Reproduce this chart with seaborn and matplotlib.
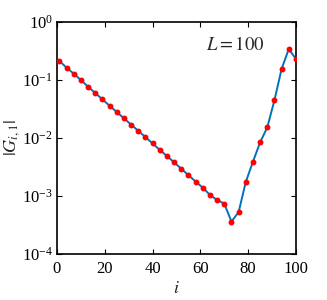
import numpy as np
import pandas as pd
import seaborn as sns
import matplotlib
matplotlib.use("Agg")
import matplotlib.pyplot as plt
from matplotlib.ticker import FixedLocator, NullLocator

# data: site index and log10 |G_{i,1}|
site = [1, 4, 7, 10, 13, 16, 19, 22, 25, 28, 31, 34, 37, 40, 43, 46, 49,
        52, 55, 58, 61, 64, 67, 70, 73, 76, 79, 82, 85, 88, 91, 94, 97, 100]
log_g = [-0.672, -0.788, -0.891, -1.00, -1.116, -1.224, -1.334, -1.443,
         -1.552, -1.66, -1.768, -1.876, -1.983, -2.094, -2.205, -2.31,
         -2.42, -2.53, -2.64, -2.75, -2.857, -2.98, -3.07, -3.13, -3.44,
         -3.28, -2.76, -2.41, -2.076, -1.817, -1.35, -0.81, -0.466, -0.638]

df = pd.DataFrame({"i": site, "G": 10.0 ** np.array(log_g)})

sns.set_theme(style="ticks")
plt.rcParams["font.family"] = ["Liberation Serif", "DejaVu Serif"]
plt.rcParams["mathtext.fontset"] = "stix"
plt.rcParams["xtick.direction"] = "in"
plt.rcParams["ytick.direction"] = "in"

fig = plt.figure(figsize=(3.27, 3.0), dpi=100)
ax = fig.add_axes([0.1743, 0.1533, 0.7307, 0.7734])

sns.lineplot(data=df, x="i", y="G", ax=ax, color="#0072BD", linewidth=1.4)
sns.scatterplot(data=df, x="i", y="G", ax=ax, color="red", s=18,
                edgecolor="red", linewidth=0, zorder=3)

ax.set_yscale("log")
ax.set_xlim(0, 100)
ax.set_ylim(1e-4, 1)
ax.xaxis.set_major_locator(FixedLocator([0, 20, 40, 60, 80, 100]))
ax.yaxis.set_major_locator(FixedLocator([1e-4, 1e-3, 1e-2, 1e-1, 1]))
ax.yaxis.set_minor_locator(NullLocator())
ax.tick_params(which="both", top=True, right=True, length=3.5, width=0.8,
               labelsize=12, colors="black")
ax.tick_params(axis="x", pad=5)
ax.tick_params(axis="y", pad=3)

for sp in ax.spines.values():
    sp.set_visible(True)
    sp.set_linewidth(1.2)
    sp.set_color("black")

ax.set_xlabel(r"$i$", fontsize=13, va="center")
ax.set_ylabel(r"$|G_{i,1}|$", fontsize=13, va="center")
ax.xaxis.set_label_coords(0.5, -0.147)
ax.yaxis.set_label_coords(-0.19, 0.5)
ax.text(0.745, 0.90, r"$L = 100$", transform=ax.transAxes, fontsize=13.5,
        ha="center", va="center")

fig.savefig("out.png", dpi=100)
